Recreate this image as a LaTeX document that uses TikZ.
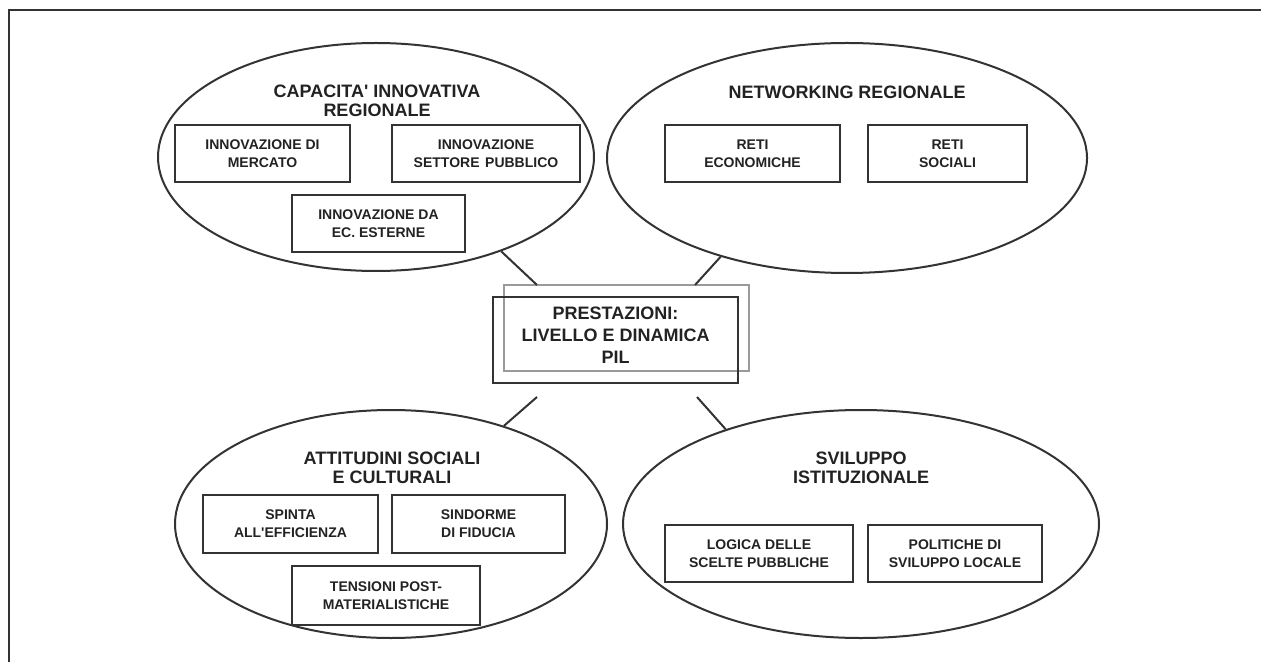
\documentclass[tikz,border=0pt]{standalone}
\usepackage{fontspec}
\setmainfont{Liberation Sans}
\usetikzlibrary{shapes.geometric}
\definecolor{ink}{HTML}{222222}
\definecolor{lineclr}{HTML}{333333}
\definecolor{lightclr}{HTML}{9A9A9A}
\tikzset{
  oval/.style={draw=lineclr, line width=1pt, ellipse, inner sep=0pt},
  titletext/.style={text=ink, align=center, inner sep=0pt, font=\fontsize{9}{9.25}\selectfont\bfseries},
  boxnode/.style={draw=lineclr, line width=1pt, text=ink, align=center, inner sep=0pt,
    minimum height=28.75pt, font=\fontsize{7}{9}\selectfont\bfseries},
  conn/.style={draw=lineclr, line width=1pt},
  frameline/.style={draw=lineclr, line width=1pt}
}
\begin{document}
\begin{tikzpicture}[x=0.5pt, y=-0.5pt]
\useasboundingbox (0,0) rectangle (1261,662);
% frame
\coordinate (fa) at (9,662);
\coordinate (fb) at (9,10);
\coordinate (fc) at (1261,10);
\draw[frameline] (fa) -- (fb) -- (fc);

% ellipses
\node[oval, minimum width=218pt, minimum height=114pt] (tl) at (376,157) {};
\node[oval, minimum width=240pt, minimum height=115pt] (tr) at (847,158) {};
\node[oval, minimum width=216pt, minimum height=114pt] (bl) at (391,524) {};
\node[oval, minimum width=238pt, minimum height=114pt] (br) at (861,524) {};

% titles
\node[titletext] (tlt) at (377,101) {CAPACITA\textquotesingle{} INNOVATIVA\\REGIONALE};
\node[titletext] (trt) at (847,92) {NETWORKING REGIONALE};
\node[titletext] (blt) at (392,468) {ATTITUDINI SOCIALI\\E CULTURALI};
\node[titletext] (brt) at (861,468) {SVILUPPO\\ISTITUZIONALE};

% boxes top-left
\node[boxnode, minimum width=87.5pt] (b1) at (262.5,153.5) {INNOVAZIONE DI\\MERCATO};
\node[boxnode, minimum width=94pt] (b2) at (486,153.5) {INNOVAZIONE\\SETTORE\hspace{0.4em}PUBBLICO};
\node[boxnode, minimum width=86.5pt] (b3) at (378.5,223.5) {INNOVAZIONE DA\\EC. ESTERNE};
% boxes top-right
\node[boxnode, minimum width=87.5pt] (b4) at (752.5,153.5) {RETI\\ECONOMICHE};
\node[boxnode, minimum width=79.5pt] (b5) at (947.5,153.5) {RETI\\SOCIALI};
% boxes bottom-left
\node[boxnode, minimum width=87.5pt, minimum height=29pt] (b6) at (290.5,524) {SPINTA\\ALL\textquotesingle{}EFFICIENZA};
\node[boxnode, minimum width=86.5pt, minimum height=29pt] (b7) at (478.5,524) {SINDORME\\DI FIDUCIA};
\node[boxnode, minimum width=94pt, minimum height=29.5pt] (b8) at (386,595.5) {TENSIONI POST-\\MATERIALISTICHE};
% boxes bottom-right
\node[boxnode, minimum width=94pt] (b9) at (759,553.5) {LOGICA DELLE\\SCELTE PUBBLICHE};
\node[boxnode, minimum width=87pt] (b10) at (955,553.5) {POLITICHE DI\\SVILUPPO LOCALE};

% central box
\node[draw=lightclr, line width=0.75pt, minimum width=122.5pt, minimum height=43pt, inner sep=0pt] (light) at (626.5,328) {};
\node[draw=lineclr, line width=1pt, minimum width=122.5pt, minimum height=43pt, inner sep=0pt] (dark) at (615.5,340) {};
\node[text=ink, align=center, inner sep=0pt, font=\fontsize{9}{11}\selectfont\bfseries] (ctext) at (615.5,335) {PRESTAZIONI:\\LIVELLO E DINAMICA\\PIL};

% connectors
\coordinate (c1) at (537,285);
\coordinate (c2) at (695,285);
\coordinate (c3) at (537,397);
\coordinate (c4) at (697,397);
\draw[conn] (tl.-37) -- (c1);
\draw[conn] (tr.218) -- (c2);
\draw[conn] (c3) -- (bl.41);
\draw[conn] (c4) -- (br.145);
\end{tikzpicture}
\end{document}
